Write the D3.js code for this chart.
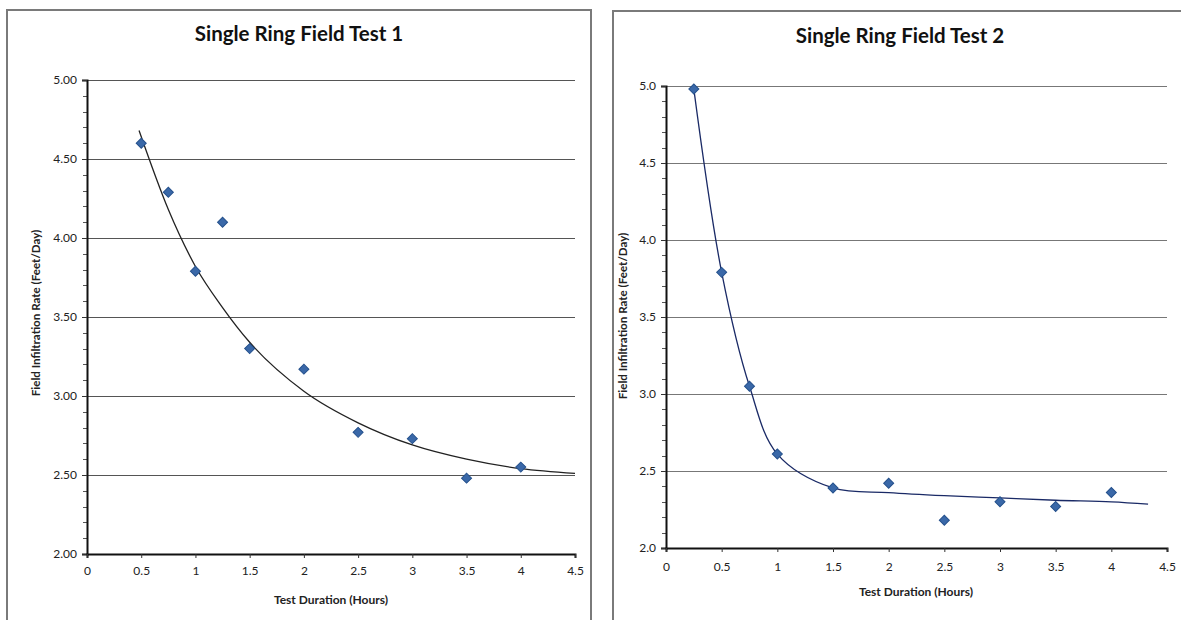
<!DOCTYPE html>
<html><head><meta charset="utf-8">
<script src="https://cdn.jsdelivr.net/npm/d3@7"></script>
<style>
html,body{margin:0;padding:0;background:#fff;}
svg{display:block;font-family:Lato,"Open Sans",sans-serif;}
</style></head>
<body>
<svg id="c" width="1181" height="620"></svg>
<script>
// ---- Data ----
const xTicks = [0, 0.5, 1, 1.5, 2, 2.5, 3, 3.5, 4, 4.5];

const test1Titles = ["Single Ring Field Test 1"];
const test1Hours = [0.5, 0.75, 1, 1.25, 1.5, 2, 2.5, 3, 3.5, 4];
const test1Rate  = [4.60, 4.29, 3.79, 4.10, 3.30, 3.17, 2.77, 2.73, 2.48, 2.55];
const test1TrendHours = [0.48, 0.75, 1.0, 1.25, 1.5, 2.0, 2.5, 3.0, 3.5, 4.0, 4.5];
const test1TrendRate  = [4.68, 4.18, 3.82, 3.56, 3.34, 3.03, 2.83, 2.69, 2.60, 2.54, 2.51];
const test1YTicks = [2.0, 2.5, 3.0, 3.5, 4.0, 4.5, 5.0];

const test2Titles = ["Single Ring Field Test 2"];
const test2Hours = [0.25, 0.5, 0.75, 1, 1.5, 2, 2.5, 3, 3.5, 4];
const test2Rate  = [4.98, 3.79, 3.05, 2.61, 2.39, 2.42, 2.18, 2.30, 2.27, 2.36];
const test2TrendHours = [0.25, 0.5, 0.75, 1.0, 1.5, 2.0, 2.5, 3.0, 3.5, 4.0, 4.33];
const test2TrendRate  = [4.98, 3.79, 3.05, 2.61, 2.39, 2.36, 2.34, 2.325, 2.31, 2.30, 2.285];
const test2YTicks = [2.0, 2.5, 3.0, 3.5, 4.0, 4.5, 5.0];

const xTitle = "Test Duration (Hours)";
const yTitle = "Field Infiltration Rate (Feet/Day)";

const svg = d3.select("#c");

function drawChart(o) {
  const g = svg.append("g");
  // frame
  g.append("rect").attr("x", o.frame[0]).attr("y", o.frame[1])
    .attr("width", o.frame[2]).attr("height", o.frame[3])
    .attr("fill", "#fff").attr("stroke", "#7a7a7a").attr("stroke-width", 2);

  const x = d3.scaleLinear().domain([0, 4.5]).range([o.left, o.right]);
  const y = d3.scaleLinear().domain([2, 5]).range([o.bottom, o.top]);

  // gridlines
  g.append("g").selectAll("line").data(o.yTicks.filter(d => d > 2)).join("line")
    .attr("x1", o.left).attr("x2", o.right)
    .attr("y1", d => Math.round(y(d)) + 0.5).attr("y2", d => Math.round(y(d)) + 0.5)
    .attr("stroke", o.gridColor).attr("stroke-width", 1.2);

  // minor y ticks
  const minor = d3.range(20, 50).map(v => v / 10).filter(v => Math.abs(v * 2 - Math.round(v * 2)) > 1e-6);
  g.append("g").selectAll("line").data(minor).join("line")
    .attr("x1", o.left - 4).attr("x2", o.left)
    .attr("y1", d => Math.round(y(d)) + 0.5).attr("y2", d => Math.round(y(d)) + 0.5)
    .attr("stroke", "#555").attr("stroke-width", 1);

  // y axis
  const ya = g.append("g").attr("transform", `translate(${o.left},0)`)
    .call(d3.axisLeft(y).tickValues(o.yTicks).tickFormat(d3.format(o.yFmt)).tickSize(5).tickPadding(5));
  ya.select(".domain").attr("stroke", "#111").attr("stroke-width", 2);
  ya.selectAll(".tick line").attr("stroke", "#333");
  ya.selectAll("text").attr("font-size", 12).attr("fill", "#222").attr("font-family", "Lato, sans-serif");

  // x axis
  const xa = g.append("g").attr("transform", `translate(0,${o.bottom})`)
    .call(d3.axisBottom(x).tickValues(xTicks).tickFormat(d => String(d)).tickSize(4).tickPadding(o.xPad));
  xa.select(".domain").attr("stroke", "#111").attr("stroke-width", 2);
  xa.selectAll(".tick line").attr("stroke", "#333");
  xa.selectAll("text").attr("font-size", 12).attr("fill", "#222").attr("font-family", "Lato, sans-serif");

  // trendline
  const line = d3.line().x(d => x(d[0])).y(d => y(d[1])).curve(o.curve);
  g.append("path").datum(o.trendX.map((v, i) => [v, o.trendY[i]]))
    .attr("d", line).attr("fill", "none").attr("stroke", o.lineColor).attr("stroke-width", 1.3);

  // markers
  const sym = d3.symbol(d3.symbolSquare, 50);
  g.append("g").selectAll("path").data(o.xs.map((v, i) => [v, o.ys[i]])).join("path")
    .attr("d", sym)
    .attr("transform", d => `translate(${x(d[0])},${y(d[1])}) rotate(45)`)
    .attr("fill", "#3a68a8").attr("stroke", "#24508c").attr("stroke-width", 1);

  // titles
  g.append("text").attr("x", o.titleX).attr("y", o.titleY).attr("text-anchor", "middle")
    .attr("font-size", 20.5).attr("font-weight", "bold").attr("fill", "#111").text(o.title);
  g.append("text").attr("x", o.xTitleX).attr("y", o.xTitleY).attr("text-anchor", "middle")
    .attr("font-size", 12).attr("font-weight", "bold").attr("fill", "#222").text(xTitle);
  g.append("text").attr("transform", `translate(${o.yTitleX},${o.yTitleY}) rotate(-90)`)
    .attr("text-anchor", "middle")
    .attr("font-size", 11.6).attr("font-weight", "bold").attr("fill", "#222").text(yTitle);
}

drawChart({
  frame: [7, 10, 584, 630],
  left: 87, right: 575, top: 80, bottom: 554,
  yTicks: test1YTicks, yFmt: ".2f", xPad: 8,
  xs: test1Hours, ys: test1Rate, trendX: test1TrendHours, trendY: test1TrendRate,
  curve: d3.curveMonotoneX, lineColor: "#222", gridColor: "#555",
  title: test1Titles[0], titleX: 299, titleY: 41,
  xTitleX: 331, xTitleY: 604, yTitleX: 40, yTitleY: 313
});

drawChart({
  frame: [613, 11, 600, 630],
  left: 666, right: 1167, top: 86, bottom: 548,
  yTicks: test2YTicks, yFmt: ".1f", xPad: 10,
  xs: test2Hours, ys: test2Rate, trendX: test2TrendHours, trendY: test2TrendRate,
  curve: d3.curveCatmullRom, lineColor: "#1a2a66", gridColor: "#777",
  title: test2Titles[0], titleX: 900, titleY: 43,
  xTitleX: 916, xTitleY: 596, yTitleX: 627, yTitleY: 316
});
</script>
</body></html>
